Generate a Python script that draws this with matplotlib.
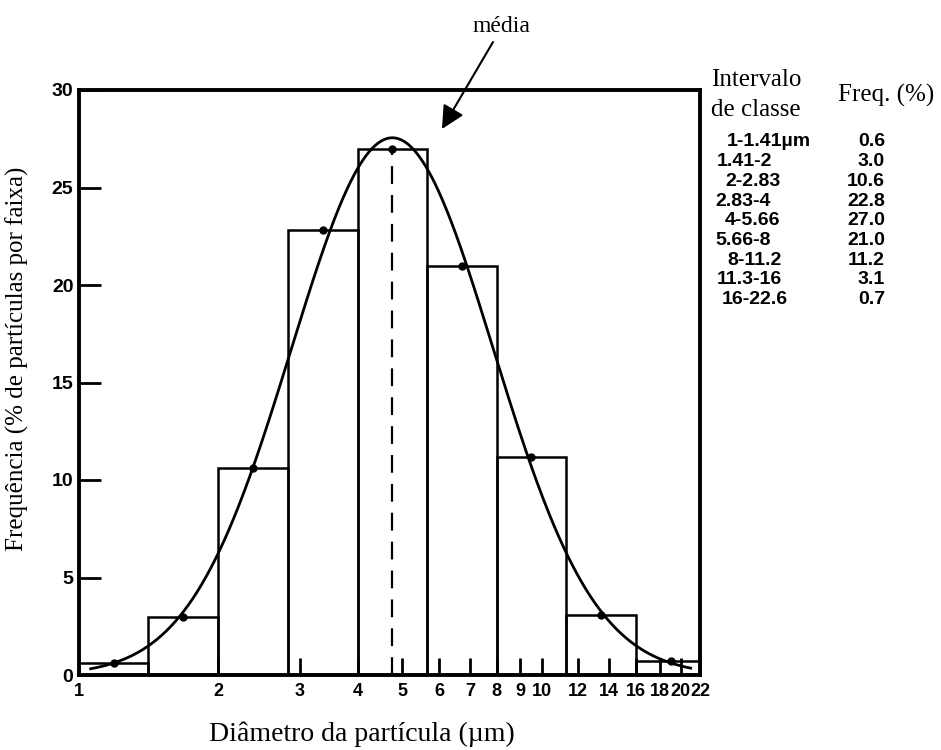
import numpy as np
import matplotlib
matplotlib.use("Agg")
import matplotlib.pyplot as plt

# Intervalos de classe (limites em µm) e frequências (%)
limites = [1.0, 1.41, 2.0, 2.83, 4.0, 5.66, 8.0, 11.3, 16.0, 22.6]
freq = [0.6, 3.0, 10.6, 22.8, 27.0, 21.0, 11.2, 3.1, 0.7]
rotulos_classe = ["1-1.41µm", "1.41-2", "2-2.83", "2.83-4", "4-5.66",
                  "5.66-8", "8-11.2", "11.3-16", "16-22.6"]
rotulos_freq = ["0.6", "3.0", "10.6", "22.8", "27.0", "21.0", "11.2", "3.1", "0.7"]
ticks_x = [1, 2, 3, 4, 5, 6, 7, 8, 9, 10, 12, 14, 16, 18, 20, 22]
ticks_y = [0, 5, 10, 15, 20, 25, 30]

limites = np.array(limites)
freq = np.array(freq)
larguras = np.diff(limites)
centros = np.sqrt(limites[:-1] * limites[1:])  # ponto médio geométrico

# ajuste log-normal: parábola em ln(freq) x log2(d)
lx = np.log2(centros)
coef = np.polyfit(lx, np.log(freq), 2, w=np.sqrt(freq))
media = 2 ** (-coef[1] / (2 * coef[0]))
xs = np.logspace(np.log10(1.06), np.log10(21), 400)
ys = np.exp(np.polyval(coef, np.log2(xs)))

W, H = 941, 750
fig = plt.figure(figsize=(W / 100, H / 100), dpi=100)
ax = fig.add_axes([79 / W, 1 - 675 / H, (700 - 79) / W, (675 - 90) / H])

ax.bar(limites[:-1], freq, width=larguras, align="edge",
       fill=False, edgecolor="black", linewidth=1.8)
ax.plot(xs, ys, color="black", lw=2)
ax.plot(centros, freq, "o", color="black", ms=5)
ax.plot([media, media], [0, freq.max()], color="black", lw=1.6,
        dashes=(8, 5))

ax.set_xscale("log")
ax.set_xlim(1, 22)
ax.set_ylim(0, 30)
ax.set_xticks(ticks_x)
ax.set_xticklabels([str(t) for t in ticks_x])
ax.xaxis.set_minor_locator(matplotlib.ticker.NullLocator())
ax.set_yticks(ticks_y)
ax.tick_params(axis="both", direction="in", width=2)
ax.tick_params(axis="x", length=12, pad=6, labelsize=13)
ax.tick_params(axis="y", length=16, pad=4, labelsize=14)
sans = ["Liberation Sans Narrow", "Liberation Sans"]
for lab in ax.get_xticklabels() + ax.get_yticklabels():
    lab.set_family(sans)
    lab.set_fontweight("bold")
for s in ax.spines.values():
    s.set_linewidth(2.8)

serif = ["Liberation Serif", "DejaVu Serif"]
ax.set_xlabel("Diâmetro da partícula (µm)", family=serif, fontsize=20)
ax.set_ylabel("Frequência (% de partículas por faixa)", family=serif,
              fontsize=18)
ax.xaxis.set_label_coords(0.456, -0.08)
ax.yaxis.set_label_coords(-0.08, 0.54)

# indicação da média
fig.text(501 / W, 1 - 26 / H, "média", family=serif, fontsize=17,
         ha="center", va="center")
ax.annotate("", xy=(6.09, 28.0), xytext=(493 / W, 1 - 42 / H),
            textcoords="figure fraction", annotation_clip=False,
            arrowprops=dict(arrowstyle="-|>", mutation_scale=35,
                            color="black", lw=1.5, shrinkA=0, shrinkB=0))

# tabela de classes à direita
fig.text(756 / W, 1 - 80 / H, "Intervalo", family=serif, fontsize=18,
         ha="center", va="center")
fig.text(756 / W, 1 - 110 / H, "de classe", family=serif, fontsize=18,
         ha="center", va="center")
fig.text(886 / W, 1 - 95 / H, "Freq. (%)", family=serif, fontsize=18,
         ha="center", va="center")
recuo = [727, 717, 725, 715, 725, 715, 727, 717, 722]
for i, (c, f) in enumerate(zip(rotulos_classe, rotulos_freq)):
    y = 1 - (142 + 19.7 * i) / H
    fig.text(recuo[i] / W, y, c, family=sans, fontsize=14,
             fontweight="bold", ha="left", va="center")
    fig.text(885 / W, y, f, family=sans, fontsize=14,
             fontweight="bold", ha="right", va="center")

fig.savefig("out.png", dpi=100)
